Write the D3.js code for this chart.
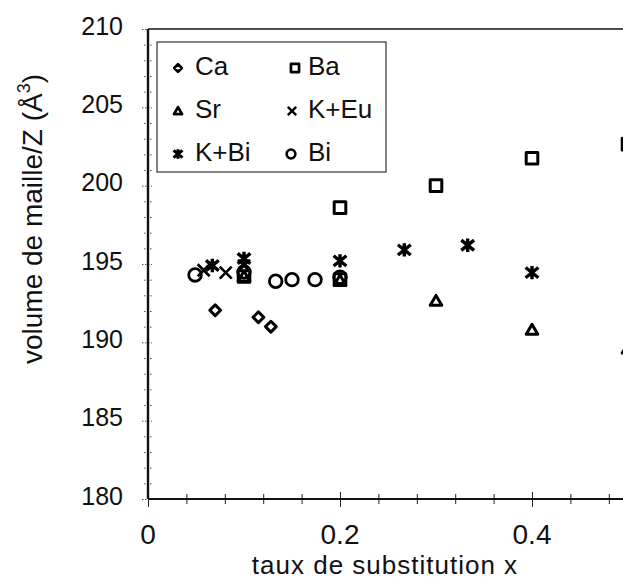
<!DOCTYPE html>
<html>
<head>
<meta charset="utf-8">
<script src="https://cdn.jsdelivr.net/npm/d3@7"></script>
<style>
  html, body { margin: 0; padding: 0; background: #fff; }
  svg { display: block; font-family: "Liberation Sans", Arial, sans-serif; }
</style>
</head>
<body>
<svg id="chart" width="623" height="580"></svg>
<script>
// Cell volume per formula unit vs substitution rate, by substituting element
const caX  = [0.070, 0.115, 0.128];
const caY  = [192.05, 191.6, 191.0];
const baX  = [0.100, 0.200, 0.200, 0.300, 0.400, 0.500];
const baY  = [194.2, 194.0, 198.6, 200.0, 201.75, 202.65];
const srX  = [0.100, 0.200, 0.300, 0.400, 0.500];
const srY  = [194.2, 193.95, 192.65, 190.8, 189.6];
const keuX = [0.058, 0.081, 0.100];
const keuY = [194.6, 194.45, 194.9];
const kbiX = [0.067, 0.100, 0.200, 0.267, 0.333, 0.400];
const kbiY = [194.9, 195.35, 195.2, 195.9, 196.2, 194.45];
const biX  = [0.049, 0.100, 0.133, 0.150, 0.174, 0.200];
const biY  = [194.3, 194.5, 193.9, 194.0, 194.0, 194.15];

const xTickLabels = [0, 0.2, 0.4];
const yTickLabels = [180, 185, 190, 195, 200, 205, 210];

const seriesNames = ["Ca", "Ba", "Sr", "K+Eu", "K+Bi", "Bi"];
const seriesShapes = ["diamond", "square", "triangle", "cross", "star", "circle"];

const svg = d3.select("#chart");
const plotLeft = 148, plotTop = 29, plotBottom = 499, plotRight = 628;

const x = d3.scaleLinear().domain([0, 0.5]).range([plotLeft, plotRight]);
const y = d3.scaleLinear().domain([180, 210]).range([plotBottom, plotTop]);

// marker path generator, centred on 0,0
function shapePath(kind, r) {
  const p = d3.path();
  if (kind === "diamond") {
    p.moveTo(0, -r); p.lineTo(r, 0); p.lineTo(0, r); p.lineTo(-r, 0); p.closePath();
  } else if (kind === "square") {
    p.rect(-r, -r, 2 * r, 2 * r);
  } else if (kind === "triangle") {
    const h = r * 1.7;
    p.moveTo(0, -h * 0.55); p.lineTo(r, h * 0.45); p.lineTo(-r, h * 0.45); p.closePath();
  } else if (kind === "cross") {
    p.moveTo(-r, -r); p.lineTo(r, r); p.moveTo(r, -r); p.lineTo(-r, r);
  } else if (kind === "star") {
    p.moveTo(-r, -r * 0.8); p.lineTo(r, r * 0.8); p.moveTo(r, -r * 0.8); p.lineTo(-r, r * 0.8);
    p.moveTo(0, -r * 1.05); p.lineTo(0, r * 1.05);
  } else if (kind === "circle") {
    p.arc(0, 0, r, 0, 2 * Math.PI);
  }
  return p.toString();
}

const markerSize = { diamond: 5.4, square: 5.8, triangle: 5.8, cross: 6, star: 6.4, circle: 6.3 };
const markerStroke = { diamond: 3, square: 3, triangle: 3, cross: 2.6, star: 3.4, circle: 2.8 };

const g = svg.append("g");

// top frame line
g.append("line").attr("x1", plotLeft).attr("x2", 623).attr("y1", plotTop).attr("y2", plotTop)
  .attr("stroke", "#111").attr("stroke-width", 1.6);

// bottom axis: crossing ticks every 0.04
const isMajorX = d => Math.abs(d / 0.2 - Math.round(d / 0.2)) < 1e-6;
const xMinor = d3.range(0, 0.5, 0.04).map(v => +v.toFixed(2));
const xAxis = d3.axisBottom(x).tickValues(xMinor).tickSize(0).tickFormat("");
const xg = g.append("g").attr("transform", `translate(0,${plotBottom})`).call(xAxis);
xg.select(".domain").remove();
xg.selectAll(".tick").append("line")
  .attr("y1", d => isMajorX(d) ? -7 : -5)
  .attr("y2", d => isMajorX(d) ? 8 : 5)
  .attr("stroke", "#222").attr("stroke-width", 1);

// left axis: small crossing ticks every 1
const yMinor = d3.range(180, 210.5, 1);
const yAxis = d3.axisLeft(y).tickValues(yMinor).tickSize(0).tickFormat("");
const yg = g.append("g").attr("transform", `translate(${plotLeft},0)`).call(yAxis);
yg.select(".domain").remove();
yg.selectAll(".tick").append("line")
  .attr("x1", d => d % 5 === 0 ? -6 : -4)
  .attr("x2", 4)
  .attr("stroke", "#555").attr("stroke-width", 1).attr("stroke-dasharray", "1.5,1.5");

// axis lines
g.append("line").attr("x1", plotLeft).attr("x2", 623).attr("y1", plotBottom).attr("y2", plotBottom)
  .attr("stroke", "#111").attr("stroke-width", 2.2);
g.append("line").attr("x1", plotLeft).attr("x2", plotLeft).attr("y1", plotTop).attr("y2", plotBottom)
  .attr("stroke", "#111").attr("stroke-width", 2.4);

// tick labels
g.selectAll(".xl").data(xTickLabels).join("text")
  .attr("x", d => x(d)).attr("y", 544)
  .attr("text-anchor", "middle").attr("font-size", 28).attr("fill", "#111")
  .text(d => d === 0 ? "0" : d3.format(".1f")(d));

g.selectAll(".yl").data(yTickLabels).join("text")
  .attr("x", 123).attr("y", d => y(d) - 3).attr("dy", "0.35em")
  .attr("text-anchor", "end").attr("font-size", 25).attr("fill", "#111")
  .text(d => d);

// axis titles
g.append("text").attr("x", 385).attr("y", 574)
  .attr("text-anchor", "middle").attr("font-size", 26).attr("letter-spacing", 1)
  .attr("fill", "#111")
  .text("taux de substitution x");

const yt = g.append("text")
  .attr("transform", "translate(42,219) rotate(-90)")
  .attr("text-anchor", "middle").attr("font-size", 28).attr("fill", "#111");
yt.append("tspan").text("volume de maille/Z (Å");
yt.append("tspan").attr("font-size", 18).attr("dy", -12).text("3");
yt.append("tspan").attr("dy", 12).text(")");

// data points
const allSeries = [
  { xs: caX, ys: caY }, { xs: baX, ys: baY }, { xs: srX, ys: srY },
  { xs: keuX, ys: keuY }, { xs: kbiX, ys: kbiY }, { xs: biX, ys: biY }
];
allSeries.forEach((s, i) => {
  const kind = seriesShapes[i];
  const pts = s.xs.map((v, j) => [v, s.ys[j]]);
  g.append("g").selectAll("path").data(pts).join("path")
    .attr("transform", d => `translate(${x(d[0])},${y(d[1])})`)
    .attr("d", shapePath(kind, markerSize[kind]))
    .attr("fill", "none").attr("stroke", "#000")
    .attr("stroke-width", markerStroke[kind])
    .attr("stroke-linejoin", "round");
});

// legend
const lg = g.append("g");
lg.append("rect").attr("x", 157).attr("y", 42).attr("width", 229).attr("height", 130)
  .attr("fill", "#fff").attr("stroke", "#333").attr("stroke-width", 1.2);
const legendPos = [
  [178, 67, 195], [295, 67, 308],
  [178, 110, 195], [292, 110, 308],
  [178, 153, 195], [291, 153, 308]
];
seriesNames.forEach((name, i) => {
  const [sx, sy, tx] = legendPos[i];
  const kind = seriesShapes[i];
  lg.append("path")
    .attr("transform", `translate(${sx},${sy + 1})`)
    .attr("d", shapePath(kind, markerSize[kind] * 0.7))
    .attr("fill", "none").attr("stroke", "#000")
    .attr("stroke-width", markerStroke[kind] * 0.9)
    .attr("stroke-linejoin", "round");
  lg.append("text").attr("x", tx).attr("y", sy + 8)
    .attr("font-size", 26).attr("fill", "#111").text(name);
});
</script>
</body>
</html>
